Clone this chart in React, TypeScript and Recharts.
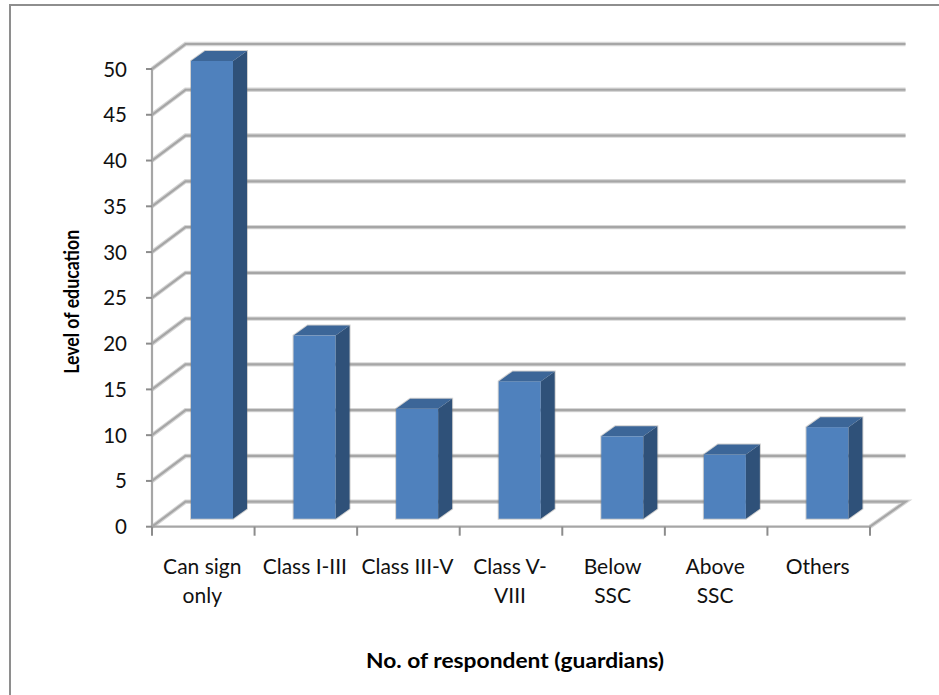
import React from "react";
import { BarChart, Bar, XAxis, YAxis, CartesianGrid, Label } from "recharts";

const categories = ["Can sign\nonly", "Class I-III", "Class III-V", "Class V-\nVIII", "Below\nSSC", "Above\nSSC", "Others"];
const respondents = [50, 20, 12, 15, 9, 7, 10];
const valueTicks = [0, 5, 10, 15, 20, 25, 30, 35, 40, 45, 50];
const xTitle = "No. of respondent (guardians)";
const yTitle = "Level of education";

const chartData = categories.map((name, i) => ({ name, value: respondents[i] }));

const FONT = "Lato, Carlito, Calibri, sans-serif";
const GRID = "#a6a6a6";
const WALL_DX = 33.5;
const WALL_DY = -25;
const BAR_DX = 9;
const BAR_DY = -8;
const DEPTH_DX = 14;
const DEPTH_DY = -10;

function GridLine(props: any) {
  const { x1, x2, y1, index } = props;
  const isFloor = index === 0 || Math.abs(y1 - 526.7) < 1;
  const d = `M${x1},${y1}L${x1 + WALL_DX},${y1 + WALL_DY}L${x2 + WALL_DX + 2},${y1 + WALL_DY}` + (isFloor ? `L${x2},${y1}` : "");
  return (
    <g>
      <path d={d} fill="none" stroke="#d6d6d6" strokeWidth={4.4} />
      <path d={d} fill="none" stroke={GRID} strokeWidth={2.2} />
    </g>
  );
}

function Bar3D(props: any) {
  const { x, y, width, height } = props;
  const fx = x + BAR_DX;
  const fy = y + BAR_DY;
  const r = fx + width;
  const b = fy + height;
  const halo = "rgba(120,120,120,0.35)";
  return (
    <g>
      <path
        d={`M${fx},${fy}L${fx + DEPTH_DX},${fy + DEPTH_DY}L${r + DEPTH_DX},${fy + DEPTH_DY}L${r + DEPTH_DX},${b + DEPTH_DY}L${r},${b}L${fx},${b}Z`}
        fill="none"
        stroke={halo}
        strokeWidth={2}
      />
      <rect x={fx} y={fy} width={width} height={height} fill="#4f81bd" />
      <path d={`M${fx},${fy}L${fx + DEPTH_DX},${fy + DEPTH_DY}L${r + DEPTH_DX},${fy + DEPTH_DY}L${r},${fy}Z`} fill="#3c6698" />
      <path d={`M${r},${fy}L${r + DEPTH_DX},${fy + DEPTH_DY}L${r + DEPTH_DX},${b + DEPTH_DY}L${r},${b}Z`} fill="#2f5179" />
    </g>
  );
}

function CategoryTick(props: any) {
  const { x, y, payload, index } = props;
  const half = payload.offset ?? 51.3;
  const lines = String(payload.value).split("\n");
  const axisY = y - 8;
  return (
    <g>
      <line x1={x - half} x2={x - half} y1={axisY} y2={axisY + 9} stroke="#8c8c8c" strokeWidth={2} />
      {index === categories.length - 1 && (
        <line x1={x + half} x2={x + half} y1={axisY} y2={axisY + 9} stroke="#8c8c8c" strokeWidth={2} />
      )}
      {lines.map((line, i) => (
        <text key={i} x={x - 1} y={axisY + 47 + i * 29} textAnchor="middle" fontFamily={FONT} fontSize={21} fill="#111">
          {line}
        </text>
      ))}
    </g>
  );
}

function XTitle(props: any) {
  const { viewBox } = props;
  return (
    <text
      x={viewBox.x + viewBox.width / 2 + 4}
      y={viewBox.y + 141}
      textAnchor="middle"
      fontFamily={FONT}
      fontWeight={700}
      fontSize={20}
      fill="#000"
      textLength={298}
      lengthAdjust="spacingAndGlyphs"
    >
      {xTitle}
    </text>
  );
}

function YTitle(props: any) {
  const { viewBox } = props;
  const bx = viewBox.x + 27;
  const cy = viewBox.y + viewBox.height / 2 + 4;
  return (
    <text
      x={bx}
      y={cy}
      transform={`rotate(-90 ${bx} ${cy})`}
      textAnchor="middle"
      fontFamily={FONT}
      fontWeight={700}
      fontSize={21}
      fill="#000"
      textLength={144}
      lengthAdjust="spacingAndGlyphs"
    >
      {yTitle}
    </text>
  );
}

function ValueTick(props: any) {
  const { x, y, payload } = props;
  return (
    <text x={x} y={y + 7.5} textAnchor="end" fontFamily={FONT} fontSize={20.5} fill="#111">
      {payload.value}
    </text>
  );
}

export default function App() {
  return (
    <div style={{ position: "absolute", left: 0, top: 0, width: 939, height: 695, overflow: "hidden", background: "#fff" }}>
      <div style={{ position: "absolute", left: 9, top: 4, width: 940, height: 700, borderLeft: "2px solid #8e8e8e", borderTop: "2px solid #8e8e8e" }} />
      <BarChart
        width={939}
        height={695}
        data={chartData}
        margin={{ top: 69, right: 69, bottom: 0, left: 52 }}
        style={{ position: "absolute", left: 0, top: 0 }}
      >
        <CartesianGrid vertical={false} horizontal={(p: any) => <GridLine {...p} />} />
        <XAxis
          dataKey="name"
          interval={0}
          height={168.3}
          tickLine={false}
          axisLine={{ stroke: GRID, strokeWidth: 2.2 }}
          tick={<CategoryTick />}
        >
          <Label content={<XTitle />} />
        </XAxis>
        <YAxis
          type="number"
          domain={[0, 50]}
          ticks={valueTicks}
          interval={0}
          width={100}
          tickSize={6}
          tickMargin={19}
          tickLine={{ stroke: "#8c8c8c", strokeWidth: 2 }}
          axisLine={{ stroke: GRID, strokeWidth: 2.2 }}
          tick={<ValueTick />}
        >
          <Label content={<YTitle />} />
        </YAxis>
        <Bar dataKey="value" barSize={42} isAnimationActive={false} shape={<Bar3D />} />
      </BarChart>
    </div>
  );
}
